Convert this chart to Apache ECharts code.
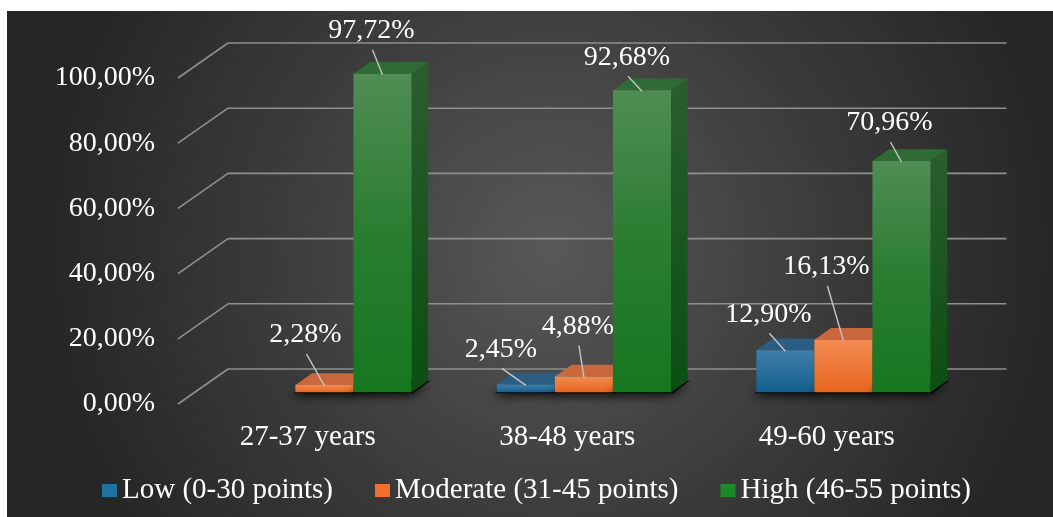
<!DOCTYPE html>
<html>
<head>
<meta charset="utf-8">
<script src="https://cdn.jsdelivr.net/npm/echarts@6/dist/echarts.min.js"></script>
<style>
  html, body { margin: 0; padding: 0; background: #ffffff; }
  #chart { width: 1053px; height: 517px; }
</style>
</head>
<body>
<div id="chart"></div>
<script>
// ---- data ----
const categories = ['27-37 years', '38-48 years', '49-60 years'];
const seriesNames = ['Low (0-30 points)', 'Moderate (31-45 points)', 'High (46-55 points)'];
const lowValues = [null, 2.45, 12.90];
const moderateValues = [2.28, 4.88, 16.13];
const highValues = [97.72, 92.68, 70.96];
const yTicks = [0, 20, 40, 60, 80, 100];

// ---- look ----
const FONT = 'Liberation Serif';
const TEXT_COLOR = '#ffffff';
const DEPTH = [50, -35];        // projection of the full floor depth (px)
const BAR_FRONT = 1 / 3;        // bars start one third into the floor
const BAR_DEPTH = 1 / 3;        // and are one third of it deep
const GAP_RATIO = 1.47;         // gap between clusters, in bar widths
const SERIES_COUNT = 3;

const palettes = [
  { legend: '#1f71a0', front: ['#3f7fa9', '#145f8e'], side: ['#1b4f70', '#0d3f5e'], top: '#2b5d82' },
  { legend: '#f0702c', front: ['#f28b53', '#e8661e'], side: ['#b8521f', '#a4420f'], top: '#c9683c' },
  { legend: '#1d8a2a', front: ['#4f8d54', '#2a7d31', '#16771f'], side: ['#2a5e2e', '#0c4e13'], top: '#2f6b34' }
];

// where each value label sits relative to the top-front centre of its bar
const LABEL_NUDGE = [
  [null, [-25, -35], [-17, -36]],
  [[-19, -50], [-6, -50], [-17, -73]],
  [[-11, -43], [-15, -33], [-12, -38]]
];

function fmtPct(v) {
  return v.toFixed(2).replace('.', ',') + '%';
}

function vGrad(stops) {
  const n = stops.length;
  return new echarts.graphic.LinearGradient(0, 0, 0, 1,
    stops.map((c, i) => ({ offset: n === 1 ? 0 : i / (n - 1), color: c })));
}

// back wall gridlines and the left wall diagonals
const gridSeries = {
  type: 'custom',
  coordinateSystem: 'cartesian2d',
  silent: true,
  z: 1,
  data: yTicks.map(t => [0, t]),
  encode: { x: 0, y: 1 },
  renderItem(params, api) {
    const cs = params.coordSys;
    const y = api.coord([0, api.value(1)])[1];
    const style = { stroke: '#8f8f8f', lineWidth: 1.6 };
    return {
      type: 'group',
      children: [
        { type: 'line', shape: { x1: cs.x, y1: y, x2: cs.x + DEPTH[0], y2: y + DEPTH[1] }, style },
        { type: 'line', shape: { x1: cs.x + DEPTH[0], y1: y + DEPTH[1], x2: cs.x + cs.width + DEPTH[0], y2: y + DEPTH[1] }, style }
      ]
    };
  }
};

function makeBarSeries(k, values) {
  const pal = palettes[k];
  return {
    type: 'custom',
    name: seriesNames[k],
    coordinateSystem: 'cartesian2d',
    z: 2 + k,
    itemStyle: { color: pal.legend },
    data: values.map((v, i) => [i, v == null ? '-' : v]),
    encode: { x: 0, y: 1 },
    renderItem(params, api) {
      const v = api.value(1);
      if (v == null || isNaN(v)) return null;
      const i = api.value(0);
      const catW = api.size([1, 0])[0];
      const barW = catW / (SERIES_COUNT + GAP_RATIO);
      const p0 = api.coord([i, 0]);
      const p1 = api.coord([i, v]);
      const fx = p0[0] - SERIES_COUNT * barW / 2 + k * barW + DEPTH[0] * BAR_FRONT;
      const fy0 = p0[1] + DEPTH[1] * BAR_FRONT;
      const fy1 = p1[1] + DEPTH[1] * BAR_FRONT;
      const dx = DEPTH[0] * BAR_DEPTH, dy = DEPTH[1] * BAR_DEPTH;
      const children = [];

      // soft floor shadow
      children.push({
        type: 'polygon',
        shape: { points: [[fx - 2, fy0 + 1], [fx + barW + 2, fy0 + 1], [fx + barW + dx + 2, fy0 + dy], [fx + dx - 2, fy0 + dy]] },
        style: { fill: 'rgba(0,0,0,0.85)', shadowBlur: 10, shadowColor: 'rgba(0,0,0,0.9)', shadowOffsetY: 3, shadowOffsetX: -2 }
      });
      // side
      children.push({
        type: 'polygon',
        shape: { points: [[fx + barW, fy1], [fx + barW + dx, fy1 + dy], [fx + barW + dx, fy0 + dy], [fx + barW, fy0]] },
        style: { fill: vGrad(pal.side) }
      });
      // top
      children.push({
        type: 'polygon',
        shape: { points: [[fx, fy1], [fx + barW, fy1], [fx + barW + dx, fy1 + dy], [fx + dx, fy1 + dy]] },
        style: { fill: pal.top }
      });
      // front
      children.push({
        type: 'rect',
        shape: { x: fx, y: fy1, width: barW, height: fy0 - fy1 },
        style: { fill: vGrad(pal.front) }
      });

      // value label with leader line
      const nudge = LABEL_NUDGE[k][i];
      if (nudge) {
        const mx = fx + barW / 2;
        const lx = mx + nudge[0], ly = fy1 + nudge[1];
        children.push({
          type: 'line',
          shape: { x1: lx + 1, y1: ly + 19, x2: mx, y2: fy1 + 1 },
          style: { stroke: '#c4c4c4', lineWidth: 1.4 }
        });
        children.push({
          type: 'text',
          style: {
            text: fmtPct(v), x: lx, y: ly, align: 'center', verticalAlign: 'middle',
            fill: TEXT_COLOR, fontSize: 28, fontFamily: FONT
          }
        });
      }
      return { type: 'group', children };
    }
  };
}

const chart = echarts.init(document.getElementById('chart'), null, { renderer: 'canvas' });
chart.setOption({
  animation: false,
  backgroundColor: '#ffffff',
  textStyle: { fontFamily: FONT },
  graphic: {
    elements: [{
      type: 'rect', silent: true, z: -100,
      shape: { x: 7, y: 11, width: 1046, height: 506 },
      style: {
        fill: new echarts.graphic.RadialGradient(0.52, 0.47, 1.0, [
          { offset: 0, color: '#585858' },
          { offset: 0.55, color: '#3b3b3b' },
          { offset: 1, color: '#262626' }
        ])
      }
    }]
  },
  grid: { left: 178, right: 96.5, top: 78, bottom: 113, containLabel: false },
  xAxis: {
    type: 'category',
    data: categories,
    axisLine: { show: false },
    axisTick: { show: false },
    splitLine: { show: false },
    axisLabel: { color: TEXT_COLOR, fontSize: 29, fontFamily: FONT, margin: 19 }
  },
  yAxis: {
    type: 'value',
    min: 0, max: 100, interval: 20,
    axisLine: { show: false },
    axisTick: { show: false },
    splitLine: { show: false },
    axisLabel: { color: TEXT_COLOR, fontSize: 28, fontFamily: FONT, margin: 23, formatter: v => fmtPct(v) }
  },
  legend: {
    data: seriesNames,
    left: 102, top: 476,
    padding: 0,
    icon: 'rect',
    itemWidth: 15, itemHeight: 13,
    itemGap: 42,
    textStyle: { color: TEXT_COLOR, fontSize: 29, fontFamily: FONT }
  },
  series: [
    gridSeries,
    makeBarSeries(0, lowValues),
    makeBarSeries(1, moderateValues),
    makeBarSeries(2, highValues)
  ]
});
</script>
</body>
</html>
